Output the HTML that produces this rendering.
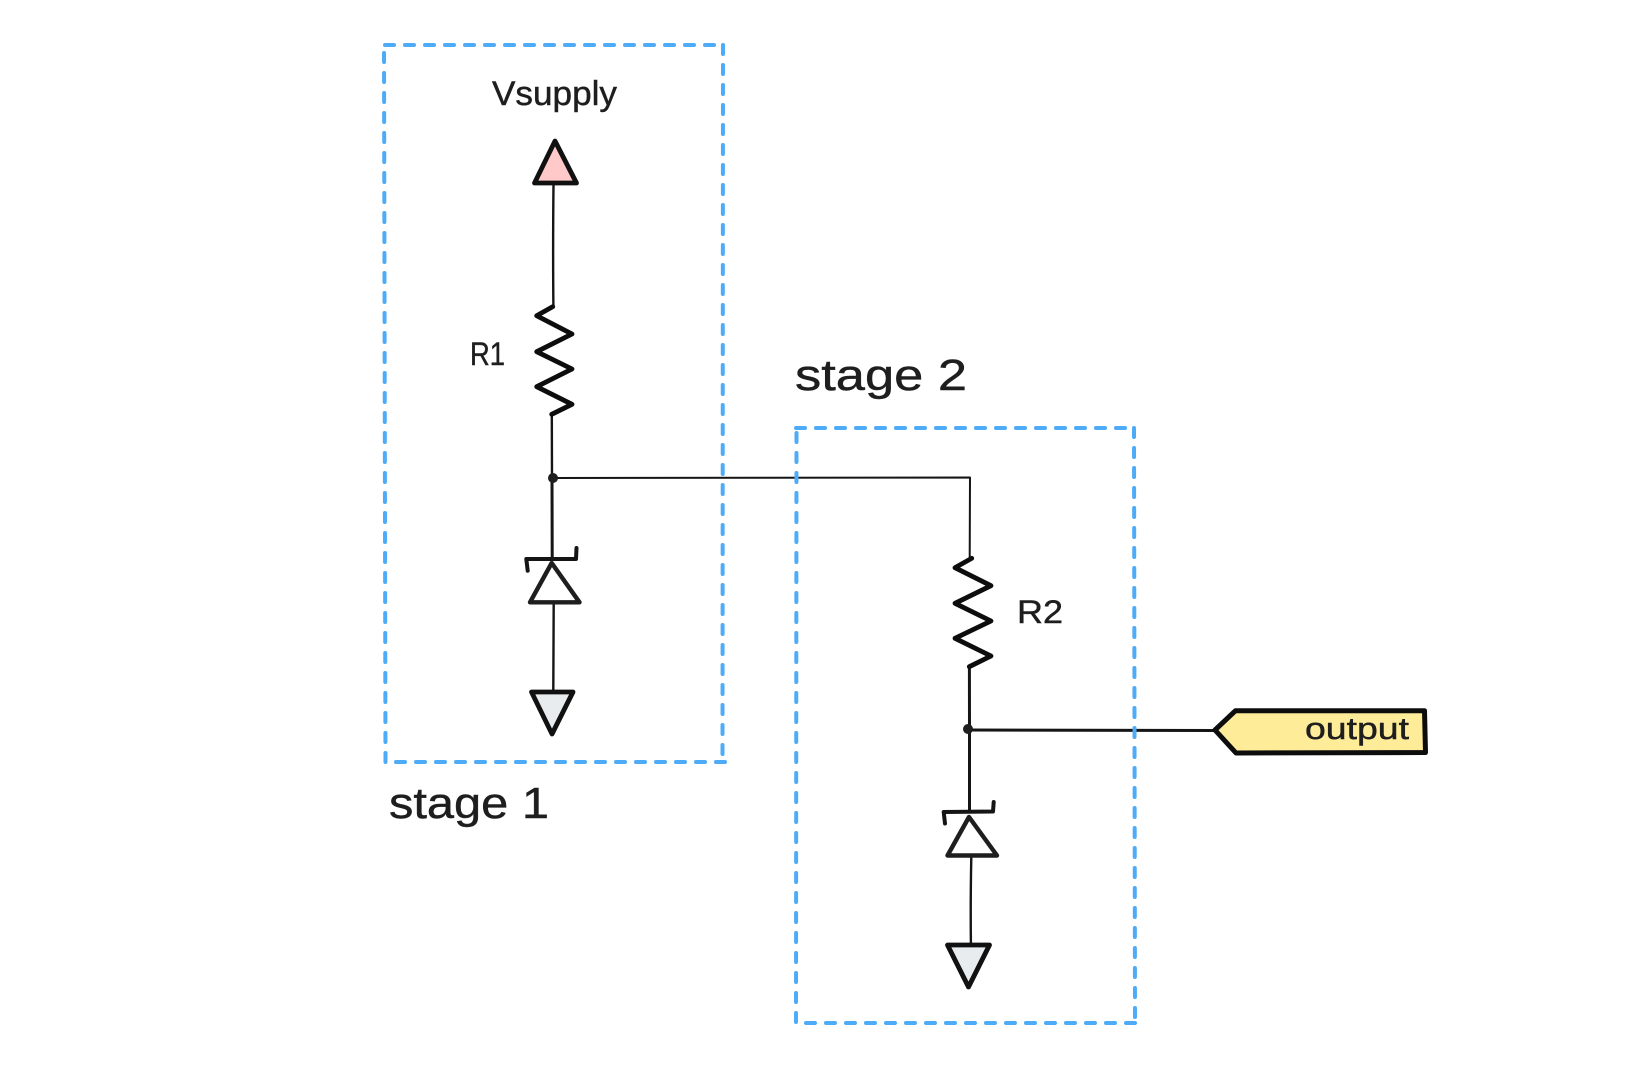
<!DOCTYPE html>
<html>
<head>
<meta charset="utf-8">
<style>
html,body{margin:0;padding:0;background:#fff;width:1647px;height:1068px;overflow:hidden}
svg{display:block}
text{font-family:"Liberation Sans",sans-serif;fill:#1e1e1e;stroke:#1e1e1e;stroke-width:.45}
.d{fill:none;stroke:#4dabf7;stroke-width:4;stroke-dasharray:9 11;stroke-linecap:round}
.w{fill:none;stroke:#151515;stroke-width:2.4;stroke-linecap:round;stroke-linejoin:round}
.t{stroke:#111;stroke-width:4.8;stroke-linejoin:round;stroke-linecap:round}
.r{fill:none;stroke:#0d0d0d;stroke-width:4.8;stroke-linejoin:round;stroke-linecap:round}
</style>
</head>
<body>
<svg width="1647" height="1068" viewBox="0 0 1647 1068" xmlns="http://www.w3.org/2000/svg">
<rect width="1647" height="1068" fill="#fff"/>

<!-- wires -->
<path class="w" d="M553.5 184Q552.8 250 553.4 307"/>
<path class="w" d="M551.8 414L552 478"/>
<path class="w" style="stroke-width:3" d="M552 478L552.2 557"/>
<path class="w" style="stroke-width:2" d="M553 478L970 477.5L969.7 558"/>
<path class="w" d="M553.7 603L553.3 691"/>
<path class="w" style="stroke-width:3" d="M969.4 667L969.5 730L969.5 812"/>
<path class="w" style="stroke-width:3" d="M968 730L1215 730.5"/>
<path class="w" d="M971.3 857Q970.4 900 970.9 944"/>

<!-- stage 1 box -->
<path class="d" d="M385 45L723 45"/>
<path class="d" d="M723 45L722.5 762"/>
<path class="d" d="M725 762L385 762"/>
<path class="d" d="M385.5 762L384 45"/>

<!-- stage 2 box -->
<path class="d" d="M796 428L1134 428"/>
<path class="d" d="M1134 428L1135 1023"/>
<path class="d" d="M1135 1023L796 1023"/>
<path class="d" d="M796 1022L796.5 428"/>

<!-- supply -->
<path class="t" fill="#ffc9c9" d="M555 141L576.5 183L534.5 183Z"/>

<!-- R1 -->
<path class="r" d="M552.7 306.7L536.7 315.7L572 334L536.7 351.7L572 369L536.7 386.7L572 404.3L551.7 414.3"/>

<!-- R2 -->
<path class="r" d="M971.7 558.3L955 567.7L991 585.7L955 603.3L991 621L955 638.3L991 656L969.3 666.7"/>

<!-- nodes -->
<circle cx="553" cy="478" r="5" fill="#1e1e1e"/>
<circle cx="968" cy="729" r="5" fill="#1e1e1e"/>

<!-- zener 1 -->
<path class="w" style="stroke-width:4" d="M527.7 570.7L526.3 559L576 559L576.5 548"/>
<path class="t" fill="#fff" style="stroke:#1e1e1e;stroke-width:4.4" d="M551.7 563L579.5 602.3L530 602.3Z"/>

<!-- ground 1 -->
<path class="t" fill="#e9ecef" d="M531.5 692L573 692L552 734Z"/>

<!-- zener 2 -->
<path class="w" style="stroke-width:4" d="M945 823.5L943.7 812L993 811.5L993.7 802"/>
<path class="t" fill="#fff" style="stroke:#1e1e1e;stroke-width:4.4" d="M969 817L997 855.5L947.5 855.5Z"/>

<!-- ground 2 -->
<path class="t" fill="#e9ecef" d="M947.5 945L989.5 945L968.5 987Z"/>

<!-- output tag -->
<path fill="#ffec99" stroke="#0d0d0d" stroke-width="5" stroke-linejoin="round" d="M1215 730L1235.5 710.7L1424.5 710.7L1425.5 752.5L1236 753Z"/>

<!-- labels -->
<text x="492" y="105" font-size="34" textLength="125" lengthAdjust="spacingAndGlyphs">Vsupply</text>
<text x="470" y="365" font-size="32" textLength="35" lengthAdjust="spacingAndGlyphs">R1</text>
<text x="1017" y="623" font-size="32" textLength="46" lengthAdjust="spacingAndGlyphs">R2</text>
<text x="389" y="818" font-size="44" textLength="160" lengthAdjust="spacingAndGlyphs">stage 1</text>
<text x="795" y="390" font-size="44" textLength="172" lengthAdjust="spacingAndGlyphs">stage 2</text>
<text x="1305" y="739" font-size="31" textLength="104" lengthAdjust="spacingAndGlyphs">output</text>
</svg>
</body>
</html>
